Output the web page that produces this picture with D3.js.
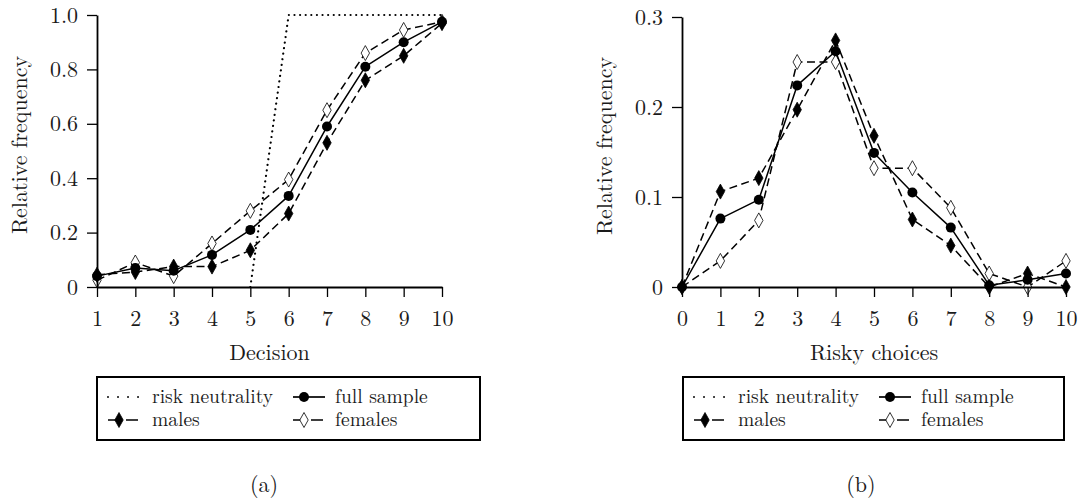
<!DOCTYPE html>
<html>
<head>
<meta charset="utf-8">
<script src="https://cdn.jsdelivr.net/npm/d3@7"></script>
<style>
  html, body { margin: 0; padding: 0; background: #fff; }
</style>
</head>
<body>
<svg id="chart" width="1083" height="504"></svg>
<script>
// Panel (a): share choosing the risky lottery at each decision
const decisions = [1, 2, 3, 4, 5, 6, 7, 8, 9, 10];
const riskNeutralA = [0, 0, 0, 0, 0, 1, 1, 1, 1, 1];
const fullSampleA = [0.04, 0.07, 0.06, 0.118, 0.21, 0.335, 0.59, 0.81, 0.90, 0.975];
const malesA      = [0.045, 0.055, 0.075, 0.075, 0.135, 0.27, 0.53, 0.76, 0.85, 0.97];
const femalesA    = [0.025, 0.09, 0.04, 0.16, 0.28, 0.395, 0.65, 0.86, 0.945, 0.975];
const yTicksA = [0, 0.2, 0.4, 0.6, 0.8, 1.0];

// Panel (b): distribution of the number of risky choices
const riskyChoices = [0, 1, 2, 3, 4, 5, 6, 7, 8, 9, 10];
const fullSampleB = [0, 0.076, 0.097, 0.224, 0.262, 0.149, 0.105, 0.066, 0.002, 0.008, 0.015];
const malesB      = [0, 0.106, 0.121, 0.197, 0.274, 0.168, 0.075, 0.046, 0, 0.015, 0];
const femalesB    = [0, 0.029, 0.074, 0.25, 0.25, 0.132, 0.132, 0.088, 0.015, 0, 0.029];
const yTicksB = [0, 0.1, 0.2, 0.3];

const legendLabels = ["risk neutrality", "full sample", "males", "females"];

const FONT = '"Latin Modern Roman", "Liberation Serif", "DejaVu Serif", serif';
const TEXT_COLOR = "#1a1a1a";
const svg = d3.select("#chart");
const fmt = d => d === 0 ? "0" : d3.format(".1f")(d);

function diamondPath(cx, cy) {
  const w = 4.2, h = 7.5;
  return `M${cx},${cy - h}L${cx + w},${cy}L${cx},${cy + h}L${cx - w},${cy}Z`;
}

function drawMarker(g, kind, cx, cy) {
  if (kind === "circle") {
    g.append("circle").attr("cx", cx).attr("cy", cy).attr("r", 5).attr("fill", "#000");
  } else if (kind === "fdiamond") {
    g.append("path").attr("d", diamondPath(cx, cy)).attr("fill", "#000").attr("stroke", "#000").attr("stroke-width", 0.8);
  } else if (kind === "odiamond") {
    g.append("path").attr("d", diamondPath(cx, cy)).attr("fill", "#fff").attr("stroke", "#000").attr("stroke-width", 0.8);
  }
}

function label(g, x, y, txt, size, anchor) {
  return g.append("text")
    .attr("x", x).attr("y", y)
    .attr("text-anchor", anchor || "start")
    .style("font-family", FONT)
    .style("font-size", size + "px")
    .style("fill", TEXT_COLOR)
    .text(txt);
}

const styles = {
  neutral: { dash: "0.01 5.6", width: 2.2, cap: "round", marker: null, legendDash: "0.01 10", legendWidth: 1.9 },
  full:    { dash: null, width: 1.5, cap: "butt", marker: "circle", legendDash: null, legendWidth: 1.7 },
  males:   { dash: "8 4.5", width: 1.5, cap: "butt", marker: "fdiamond", legendDash: "10 8 12", legendWidth: 1.7 },
  females: { dash: "8 4.5", width: 1.5, cap: "butt", marker: "odiamond", legendDash: "10 8 12", legendWidth: 1.7 }
};

function panel(cfg) {
  const g = svg.append("g");
  const x = d3.scaleLinear().domain(cfg.xDomain).range([cfg.x0, cfg.x1]);
  const y = d3.scaleLinear().domain(cfg.yDomain).range([cfg.yBottom, cfg.yTop]);

  const series = [];
  if (cfg.neutral) series.push({ key: "neutral", values: cfg.neutral });
  series.push({ key: "females", values: cfg.females });
  series.push({ key: "males", values: cfg.males });
  series.push({ key: "full", values: cfg.full });

  series.forEach(s => {
    const st = styles[s.key];
    const pts = cfg.xs.map((v, i) => [v, s.values[i]]);
    // the flat stretch lying on the x axis is left out; only the last point before the rise is kept
    const firstRise = s.values.findIndex(v => v > 0);
    const start = s.key === "neutral" ? Math.max(0, firstRise - 1) : 0;
    const line = d3.line().x(d => x(d[0])).y(d => y(d[1])).defined((d, i) => i >= start);
    g.append("path")
      .attr("d", line(pts))
      .attr("fill", "none")
      .attr("stroke", "#000")
      .attr("stroke-width", st.width)
      .attr("stroke-linecap", st.cap)
      .attr("stroke-linejoin", "round")
      .attr("stroke-dasharray", st.dash);
    if (st.marker) pts.forEach(p => drawMarker(g, st.marker, x(p[0]), y(p[1])));
  });

  // axes
  const xAxis = d3.axisBottom(x).tickValues(cfg.xs).tickSize(10).tickSizeOuter(0).tickPadding(13).tickFormat(d3.format("d"));
  const yAxis = d3.axisLeft(y).tickValues(cfg.yTicks).tickSize(10).tickSizeOuter(0).tickPadding(9).tickFormat(fmt);

  const gx = g.append("g").attr("transform", `translate(0,${cfg.yBottom})`).call(xAxis);
  const gy = g.append("g").attr("transform", `translate(${cfg.x0},0)`).call(yAxis);
  [gx, gy].forEach(a => {
    a.selectAll("path.domain").attr("stroke", "#000").attr("stroke-width", 1.8);
    a.selectAll(".tick line").attr("stroke", "#000").attr("stroke-width", 1.3);
    a.selectAll(".tick text")
      .style("font-family", FONT)
      .style("font-size", "22px")
      .style("fill", TEXT_COLOR);
  });

  // axis titles
  label(g, (cfg.x0 + cfg.x1) / 2, cfg.yBottom + 73, cfg.xTitle, 22, "middle");
  label(g, 0, 0, "Relative frequency", 22, "middle")
    .attr("transform", `translate(${cfg.yTitleX},${(cfg.yTop + cfg.yBottom) / 2 - 6}) rotate(-90)`);

  // legend box
  const L = cfg.legendLeft, R = cfg.legendRight, T = 377, B = 440;
  const lg = svg.append("g");
  lg.append("rect").attr("x", L).attr("y", T).attr("width", R - L).attr("height", B - T)
    .attr("fill", "#fff").attr("stroke", "#000").attr("stroke-width", 2);

  const entries = [
    { key: "neutral", label: legendLabels[0], col: 0, row: 0 },
    { key: "full", label: legendLabels[1], col: 1, row: 0 },
    { key: "males", label: legendLabels[2], col: 0, row: 1 },
    { key: "females", label: legendLabels[3], col: 1, row: 1 }
  ];
  entries.forEach(e => {
    const st = styles[e.key];
    const sx = L + 11 + e.col * 185;
    const sy = T + 20 + e.row * 23;
    lg.append("path")
      .attr("d", `M${sx},${sy}H${sx + (e.key === "neutral" ? 31 : 32)}`)
      .attr("stroke", "#000")
      .attr("stroke-width", st.legendWidth)
      .attr("stroke-linecap", st.cap)
      .attr("stroke-dasharray", st.legendDash);
    if (st.marker) drawMarker(lg, st.marker, sx + 11, sy);
    label(lg, L + 55 + e.col * 183, sy + 6, e.label, 19.5);
  });

  label(svg, cfg.captionX, 492, cfg.caption, 22, "middle");
}

panel({
  xs: decisions, xDomain: [1, 10], yDomain: [0, 1],
  x0: 97, x1: 442, yBottom: 287, yTop: 15,
  neutral: riskNeutralA, full: fullSampleA, males: malesA, females: femalesA,
  yTicks: yTicksA, xTitle: "Decision", yTitleX: 27,
  legendLeft: 97, legendRight: 480,
  caption: "(a)", captionX: 264
});

panel({
  xs: riskyChoices, xDomain: [0, 10], yDomain: [0, 0.3],
  x0: 682, x1: 1066, yBottom: 287, yTop: 17,
  neutral: null, full: fullSampleB, males: malesB, females: femalesB,
  yTicks: yTicksB, xTitle: "Risky choices", yTitleX: 612,
  legendLeft: 683, legendRight: 1064,
  caption: "(b)", captionX: 861
});
</script>
</body>
</html>
